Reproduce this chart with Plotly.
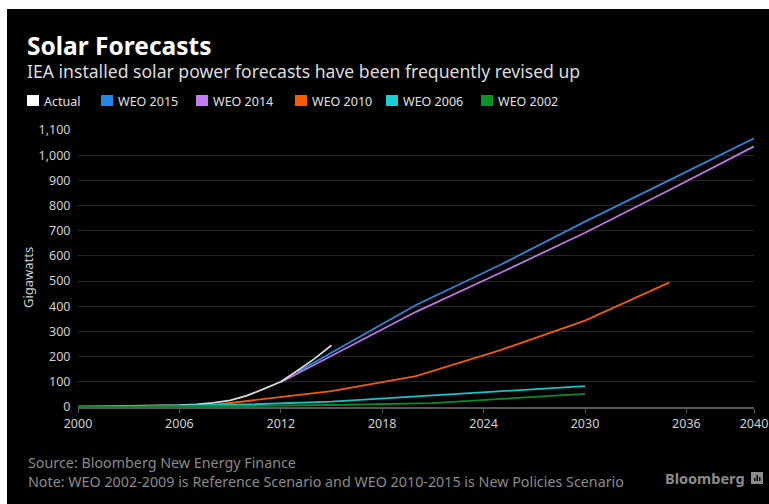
import plotly.graph_objects as go

# ---- data (gigawatts of installed solar capacity) ----
actual_years = [2000, 2001, 2002, 2003, 2004, 2005, 2006, 2007, 2008, 2009, 2010, 2011, 2012, 2013, 2014, 2015]
actual_gw = [1, 1.5, 2, 3, 4, 5.5, 7, 10, 16, 26, 45, 72, 100, 145, 192, 245]

weo2015_years = [2013, 2020, 2025, 2030, 2035, 2040]
weo2015_gw = [140, 405, 565, 736, 901, 1067]

weo2014_years = [2012, 2020, 2025, 2030, 2035, 2040]
weo2014_gw = [98, 378, 533, 692, 862, 1035]

weo2010_years = [2008, 2012, 2015, 2016, 2018, 2020, 2025, 2030, 2035]
weo2010_gw = [8, 38, 63, 75, 98, 123, 226, 343, 495]

weo2006_years = [2004, 2010, 2015, 2020, 2024, 2027, 2030]
weo2006_gw = [3, 10, 21, 41, 57, 70, 83]

weo2002_years = [2000, 2010, 2016, 2021, 2026, 2028, 2030]
weo2002_gw = [1, 4, 9, 15, 36, 44, 52]

x_ticks = [2000, 2006, 2012, 2018, 2024, 2030, 2036, 2040]
y_ticks = list(range(0, 1101, 100))

series = [
    ("WEO 2015", weo2015_years, weo2015_gw, "#2a86dc"),
    ("WEO 2014", weo2014_years, weo2014_gw, "#bd74e6"),
    ("Actual", actual_years, actual_gw, "#d9d9d9"),
    ("WEO 2010", weo2010_years, weo2010_gw, "#f05a0a"),
    ("WEO 2006", weo2006_years, weo2006_gw, "#16c4cc"),
    ("WEO 2002", weo2002_years, weo2002_gw, "#0a8c22"),
]
legend_order = [
    ("Actual", "#ffffff"),
    ("WEO 2015", "#2286e6"),
    ("WEO 2014", "#c47cf4"),
    ("WEO 2010", "#ff5a00"),
    ("WEO 2006", "#18cdd6"),
    ("WEO 2002", "#0a9428"),
]

# ---- page geometry ----
W, H = 769, 504
L, R, T, B = 78, 754, 130, 407  # plot area in pixels


def px(x):
    return (x - L) / (R - L)


def py(y):
    return (B - y) / (B - T)


fig = go.Figure()
for name, xs, ys, color in series:
    fig.add_trace(go.Scatter(x=xs, y=ys, mode="lines", name=name,
                             line=dict(color=color, width=1.8),
                             showlegend=False, hoverinfo="x+y+name"))

TXT = "Noto Sans"
annotations = [
    dict(x=px(25), y=py(45), text="<b>Solar Forecasts</b>", xanchor="left", yanchor="middle",
         font=dict(family=TXT, size=24.5, color="#ffffff")),
    dict(x=px(25), y=py(71), text="IEA installed solar power forecasts have been frequently revised up",
         xanchor="left", yanchor="middle", font=dict(family=TXT, size=17.6, color="#dcdcdc")),
    dict(x=px(26), y=py(472),
         text="Source: Bloomberg New Energy Finance<br>"
              "Note: WEO 2002-2009 is Reference Scenario and WEO 2010-2015 is New Policies Scenario",
         xanchor="left", yanchor="middle", align="left",
         font=dict(family=TXT, size=14.3, color="#8a8a8a")),
    dict(x=px(747), y=py(478), text="<b>Bloomberg</b>", xanchor="right", yanchor="middle",
         font=dict(family=TXT, size=14.5, color="#8c8c8c")),
    dict(x=px(28), y=py(278), text="Gigawatts", textangle=-90, xanchor="center", yanchor="middle",
         font=dict(family=TXT, size=13, color="#cfcfcf")),
]

shapes = [
    # black card behind everything
    dict(type="rect", xref="paper", yref="paper", x0=px(7), x1=px(W + 2), y0=py(H + 2), y1=py(9),
         fillcolor="#000000", line=dict(width=0), layer="below"),
    # logo mark
    dict(type="rect", xref="paper", yref="paper", x0=px(751), x1=px(763), y0=py(484), y1=py(472),
         fillcolor="#8c8c8c", line=dict(width=0)),
]
for bx, bh in [(754, 3), (756.5, 6), (759, 4)]:
    shapes.append(dict(type="rect", xref="paper", yref="paper", x0=px(bx), x1=px(bx + 1.5),
                       y0=py(481), y1=py(481 - bh), fillcolor="#000000", line=dict(width=0)))

# custom square legend
legend_x = [27, 101, 196, 295, 386, 481]
for (name, color), lx in zip(legend_order, legend_x):
    shapes.append(dict(type="rect", xref="paper", yref="paper", x0=px(lx), x1=px(lx + 12),
                       y0=py(106), y1=py(95), fillcolor=color, line=dict(width=0)))
    annotations.append(dict(x=px(lx + 15), y=py(101), text=name, xanchor="left", yanchor="middle",
                            font=dict(family=TXT, size=12.5, color="#e0e0e0")))

for a in annotations:
    a.update(xref="paper", yref="paper", showarrow=False)

fig.update_layout(
    width=W, height=H, autosize=False,
    margin=dict(l=L, r=W - R, t=T, b=H - B, pad=0, autoexpand=False),
    paper_bgcolor="#ffffff",
    plot_bgcolor="#000000",
    showlegend=False,
    annotations=annotations,
    shapes=shapes,
    xaxis=dict(range=[2000, 2040], tickvals=x_ticks, ticktext=[str(v) for v in x_ticks],
               automargin=False,
               showgrid=False, zeroline=False, showline=True, linecolor="#555555", linewidth=1.5,
               ticks="outside", ticklen=4, tickcolor="#555555", tickwidth=1,
               tickfont=dict(family=TXT, size=12.5, color="#d0d0d0")),
    yaxis=dict(range=[0, 1100], tickvals=y_ticks, tickformat=",", showgrid=True, automargin=False,
               gridcolor="#242424", gridwidth=1, zeroline=False, showline=False,
               ticks="outside", ticklen=4, tickcolor="rgba(0,0,0,0)",
               tickfont=dict(family=TXT, size=12.5, color="#d0d0d0")),
)

fig.write_html("out.html")
